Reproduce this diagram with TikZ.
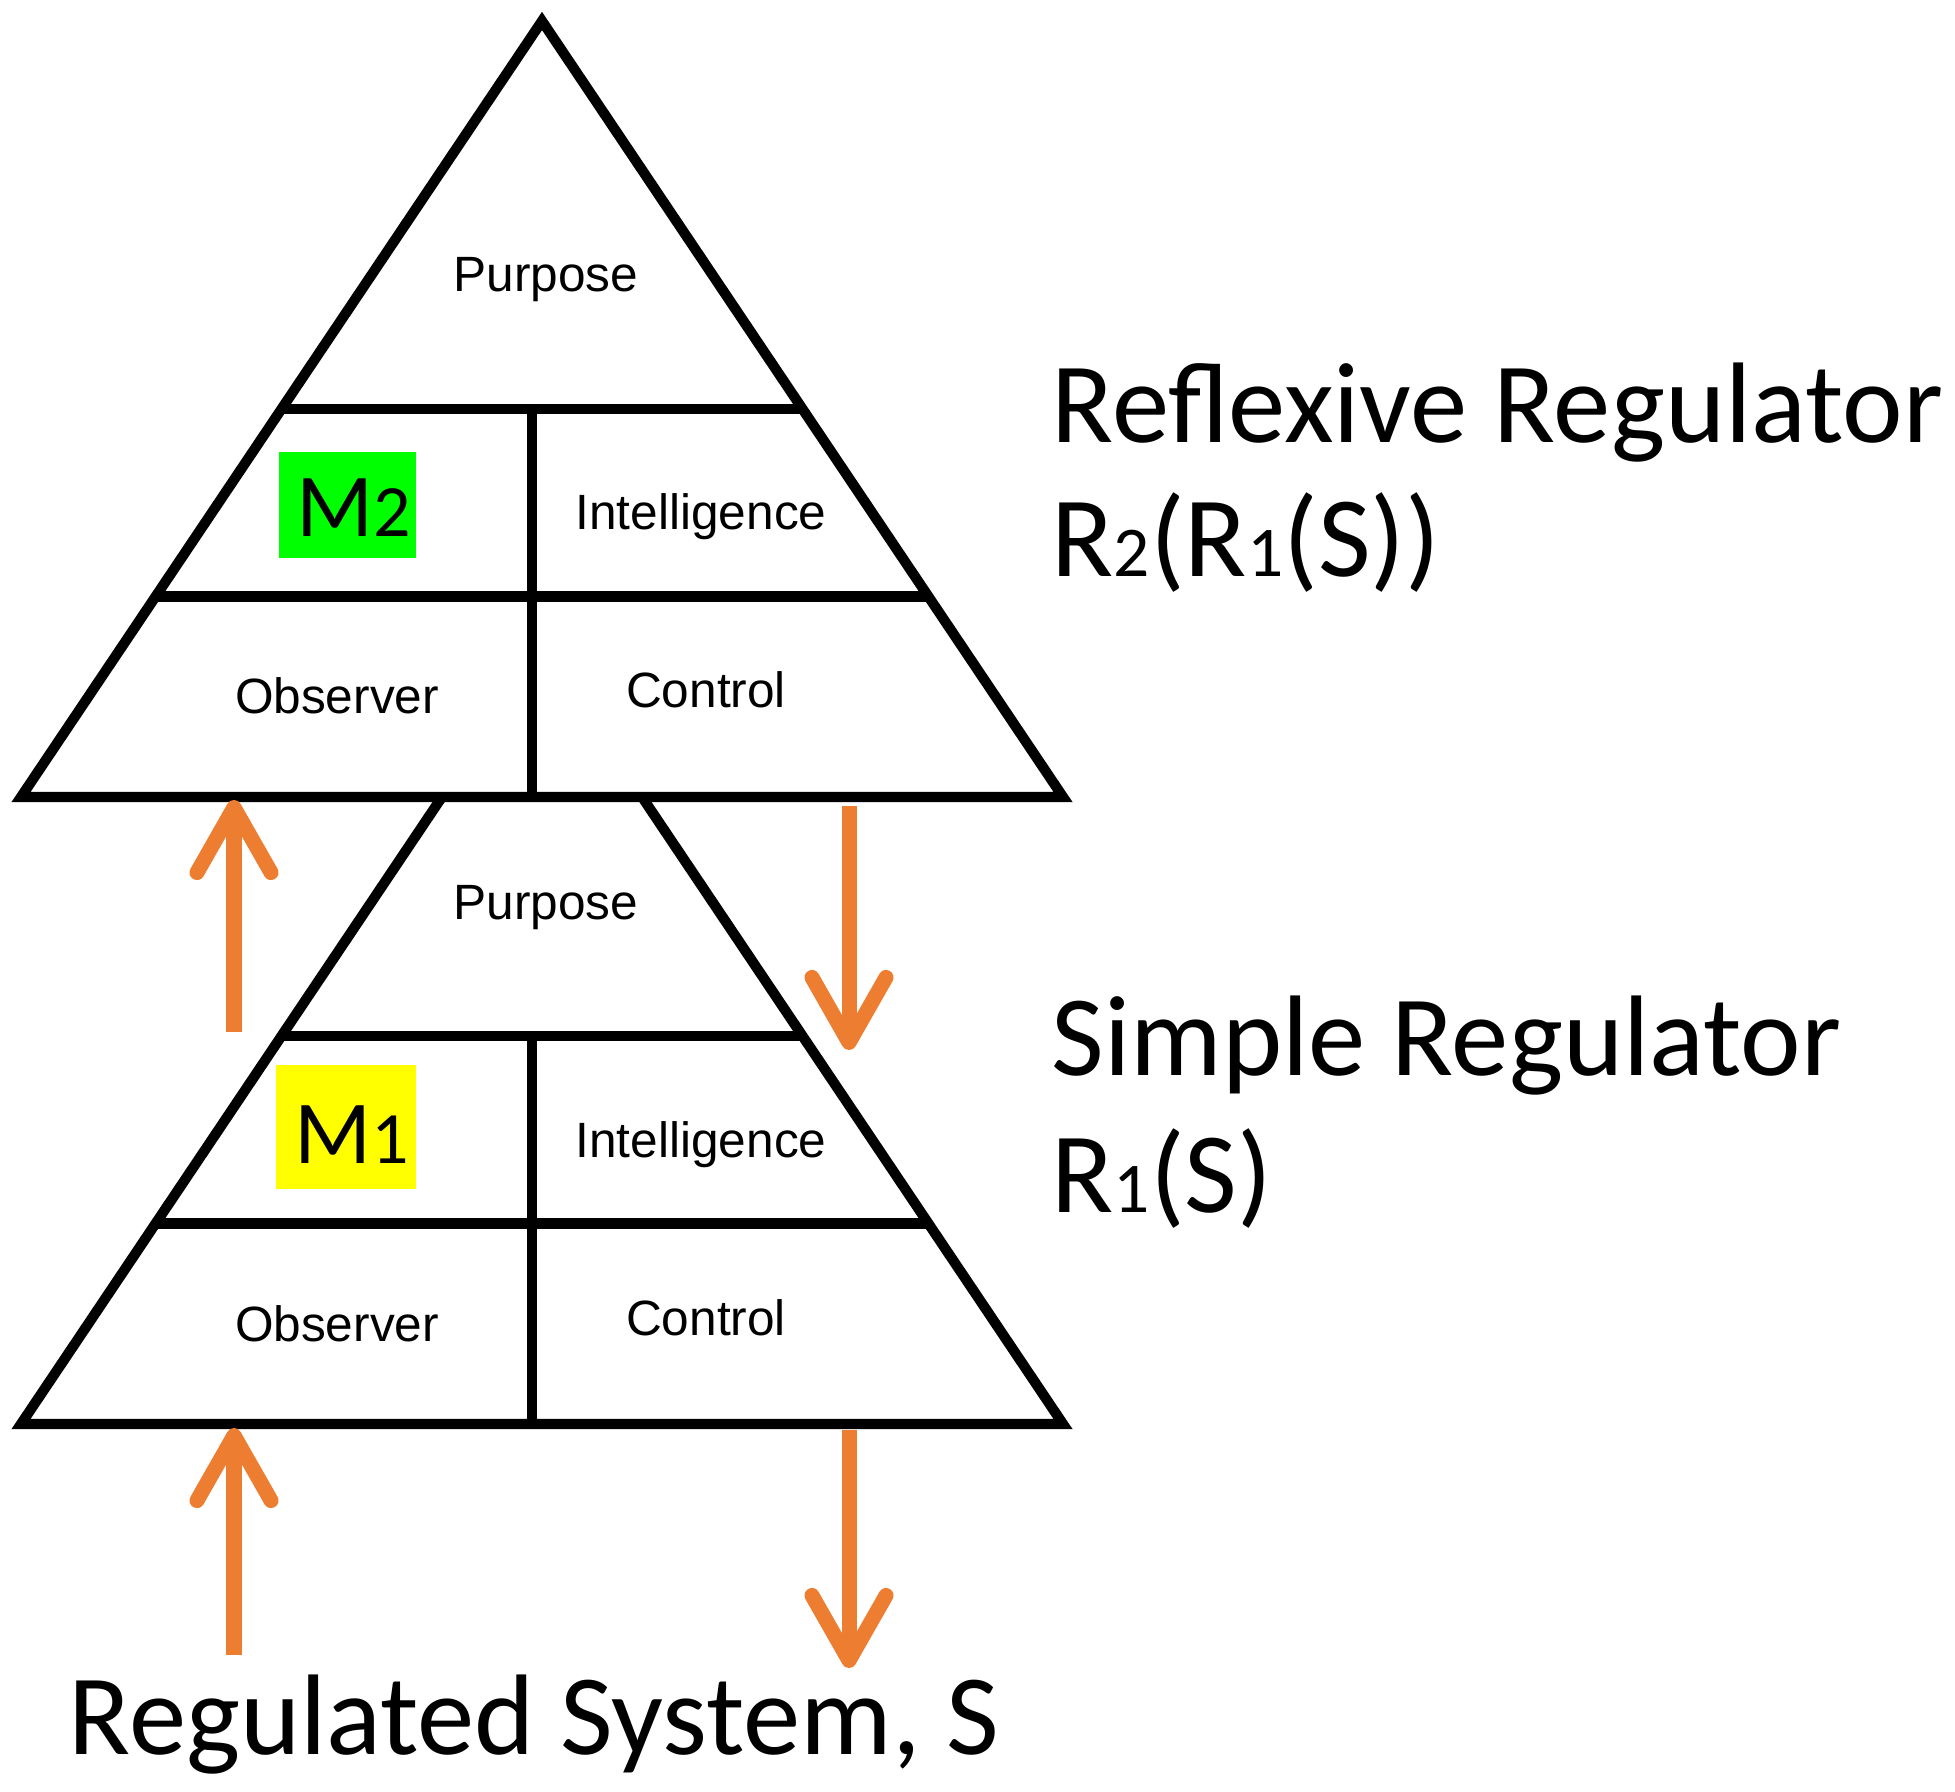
\documentclass[tikz,border=0pt]{standalone}
\usepackage{fontspec}
\setmainfont{Carlito}
\newfontfamily\cellfont{Liberation Sans}
\usetikzlibrary{arrows.meta, calc}

\definecolor{feedorange}{HTML}{ED7D31}
\definecolor{modelgreen}{HTML}{00FF00}
\definecolor{modelyellow}{HTML}{FFFF00}

\newcommand{\smalldigit}[1]{{\fontsize{20.3}{20.3}\selectfont #1}}
\newcommand{\modeldigit}[1]{{\fontsize{21}{21}\selectfont #1}}

\begin{document}
\begin{tikzpicture}[
    x=0.01cm, y=-0.01cm,
    frame/.style={
        line width=0.102cm,
    },
    cell/.style={
        font=\cellfont\fontsize{14.1}{17}\selectfont,
        anchor=base,
        inner sep=0pt,
    },
    model/.style={
        font=\fontsize{25.6}{30}\selectfont,
        anchor=base east,
        inner sep=0pt,
    },
    title/.style={
        font=\fontsize{32.6}{38}\selectfont,
        anchor=base west,
        inner sep=0pt,
    },
    feed/.style={
        draw=feedorange,
        line width=0.15cm,
        -{Straight Barb[length=6.5mm, width=7.4mm, round]},
    },
]
    \useasboundingbox (0,0) rectangle (1955,1792);

    % Regulators (level 2 on top, level 1 below, cut off by the base above)
    \foreach \lvl/\dy/\t/\close in {2/0/0/{-- cycle}, 1/627/0.192/{}} {
        \coordinate (apex\lvl) at (542,21+\dy);
        \coordinate (bl\lvl) at (21,797+\dy);
        \coordinate (br\lvl) at (1063,797+\dy);
        \draw[frame] ($(apex\lvl)!\t!(bl\lvl)$) -- (bl\lvl) -- (br\lvl)
            -- ($(apex\lvl)!\t!(br\lvl)$) \close;
        \draw[frame] ($(apex\lvl)!0.5!(bl\lvl)$) -- ($(apex\lvl)!0.5!(br\lvl)$);
        \draw[frame] ($(apex\lvl)!0.7416!(bl\lvl)$) -- ($(apex\lvl)!0.7416!(br\lvl)$);
        \draw[frame] (532,409+\dy) -- (532,797+\dy);

        \node[cell] (purpose\lvl) at (546,292+\dy) {Purpose};
        \node[cell] (intel\lvl) at (701,530+\dy) {Intelligence};
        \node[cell] (obs\lvl) at (337,714+\dy) {Observer};
        \node[cell] (ctrl\lvl) at (706,708+\dy) {Control};
    }

    % Models
    \fill[modelgreen] (279,452) rectangle (416,558);
    \node[model] (m2) at (412,537) {M\modeldigit{2}};
    \fill[modelyellow] (276,1065) rectangle (416,1189);
    \node[model] (m1) at (410,1163) {M\modeldigit{1}};

    % Labels
    \node[title] (reflexive) at (1051,443) {Reflexive Regulator};
    \node[title] (r2) at (1051,577) {R\smalldigit{2}(R\smalldigit{1}(S))};
    \node[title] (simple) at (1051,1075) {Simple Regulator};
    \node[title] (r1) at (1051,1212) {R\smalldigit{1}(S)};
    \node[title] (system) at (68,1754) {Regulated System, S};

    % Feedback arrows
    \coordinate (obsfrom2) at (234,1032);
    \coordinate (obsto2) at (234,800);
    \coordinate (ctrlfrom2) at (849,806);
    \coordinate (ctrlto2) at (849,1050);
    \coordinate (obsfrom1) at (234,1655);
    \coordinate (obsto1) at (234,1428);
    \coordinate (ctrlfrom1) at (849,1430);
    \coordinate (ctrlto1) at (849,1668);
    \draw[feed] (obsfrom2) -- (obsto2);
    \draw[feed] (ctrlfrom2) -- (ctrlto2);
    \draw[feed] (obsfrom1) -- (obsto1);
    \draw[feed] (ctrlfrom1) -- (ctrlto1);
\end{tikzpicture}
\end{document}
